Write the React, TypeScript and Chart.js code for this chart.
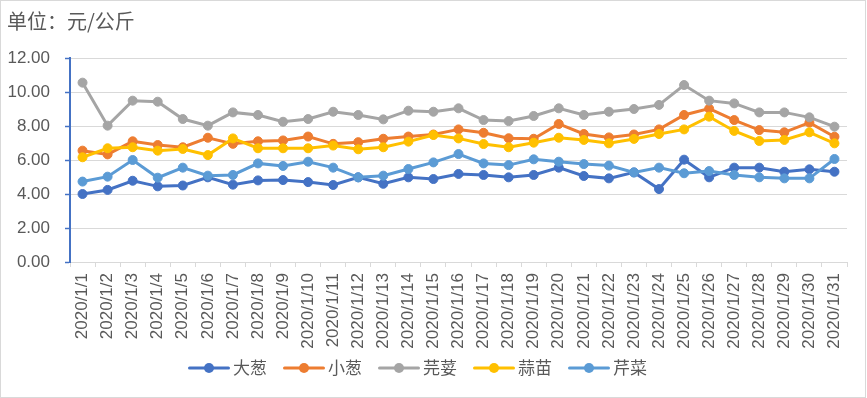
import React, { useEffect, useRef } from "react";
import { Chart, registerables } from "chart.js";

Chart.register(...registerables);

const categories = [
  "2020/1/1", "2020/1/2", "2020/1/3", "2020/1/4", "2020/1/5", "2020/1/6", "2020/1/7", "2020/1/8",
  "2020/1/9", "2020/1/10", "2020/1/11", "2020/1/12", "2020/1/13", "2020/1/14", "2020/1/15", "2020/1/16",
  "2020/1/17", "2020/1/18", "2020/1/19", "2020/1/20", "2020/1/21", "2020/1/22", "2020/1/23", "2020/1/24",
  "2020/1/25", "2020/1/26", "2020/1/27", "2020/1/28", "2020/1/29", "2020/1/30", "2020/1/31",
];

const daCong = [4.00, 4.24, 4.78, 4.45, 4.50, 4.98, 4.55, 4.80, 4.82, 4.70, 4.53, 4.98, 4.60, 4.98, 4.88, 5.18, 5.12, 4.98, 5.12, 5.55, 5.06, 4.92, 5.27, 4.29, 6.02, 4.98, 5.55, 5.55, 5.31, 5.45, 5.31];
const xiaoCong = [6.55, 6.33, 7.10, 6.88, 6.75, 7.31, 6.95, 7.10, 7.15, 7.38, 6.95, 7.05, 7.25, 7.38, 7.50, 7.80, 7.60, 7.28, 7.25, 8.12, 7.53, 7.33, 7.50, 7.80, 8.65, 9.02, 8.35, 7.76, 7.63, 8.20, 7.37];
const yuanSui = [10.55, 8.02, 9.49, 9.43, 8.41, 8.02, 8.80, 8.65, 8.25, 8.41, 8.84, 8.65, 8.39, 8.90, 8.84, 9.04, 8.35, 8.29, 8.59, 9.04, 8.65, 8.84, 9.00, 9.24, 10.41, 9.49, 9.33, 8.80, 8.80, 8.51, 7.96];
const suanMiao = [6.16, 6.69, 6.75, 6.55, 6.65, 6.29, 7.27, 6.69, 6.69, 6.69, 6.85, 6.63, 6.75, 7.08, 7.47, 7.27, 6.94, 6.75, 7.02, 7.31, 7.18, 6.98, 7.24, 7.53, 7.80, 8.55, 7.71, 7.12, 7.18, 7.63, 6.98];
const qinCai = [4.73, 5.02, 6.00, 4.96, 5.55, 5.08, 5.12, 5.80, 5.65, 5.90, 5.55, 4.98, 5.08, 5.47, 5.86, 6.35, 5.80, 5.70, 6.04, 5.90, 5.76, 5.67, 5.27, 5.55, 5.22, 5.35, 5.12, 4.98, 4.92, 4.92, 6.06];

const seriesNames = ["大葱", "小葱", "芫荽", "蒜苗", "芹菜"];
const seriesValues = [daCong, xiaoCong, yuanSui, suanMiao, qinCai];
const seriesColors = ["#4472C4", "#ED7D31", "#A5A5A5", "#FFC000", "#5B9BD5"];

const yTicks = [0, 2, 4, 6, 8, 10, 12];
const titleText = "单位：元/公斤";

const TEXT_COLOR = "#595959";
const CJK_FONT = '"Noto Sans CJK SC", "Noto Sans", sans-serif';
const NUM_FONT = '"Liberation Sans", Arial, sans-serif';

const legendPlugin = {
  id: "excelLegend",
  afterDraw(chart: any) {
    const ctx = chart.ctx as CanvasRenderingContext2D;
    const ds = chart.data.datasets;
    const lineLen = 42;
    const gap = 3;
    const spacing = 16;
    const cy = 368;
    ctx.save();
    ctx.font = `17px ${CJK_FONT}`;
    const widths = ds.map((d: any) => lineLen + gap + ctx.measureText(d.label).width);
    const total = widths.reduce((a: number, b: number) => a + b, 0) + spacing * (ds.length - 1);
    let x = 417.5 - total / 2;
    ds.forEach((d: any, i: number) => {
      ctx.strokeStyle = d.borderColor;
      ctx.lineWidth = 3;
      ctx.lineCap = "round";
      ctx.beginPath();
      ctx.moveTo(x + 1.5, cy);
      ctx.lineTo(x + lineLen - 1.5, cy);
      ctx.stroke();
      ctx.fillStyle = d.borderColor;
      ctx.beginPath();
      ctx.arc(x + lineLen / 2, cy, 5, 0, Math.PI * 2);
      ctx.fill();
      ctx.fillStyle = TEXT_COLOR;
      ctx.textBaseline = "middle";
      ctx.textAlign = "left";
      ctx.fillText(d.label, x + lineLen + gap, cy);
      x += widths[i] + spacing;
    });
    ctx.restore();
  },
};

export default function App() {
  const ref = useRef<HTMLCanvasElement | null>(null);

  useEffect(() => {
    if (!ref.current) return;
    const chart = new Chart(ref.current, {
      type: "line",
      data: {
        labels: categories,
        datasets: seriesNames.map((name, i) => ({
          label: name,
          data: seriesValues[i],
          borderColor: seriesColors[i],
          backgroundColor: seriesColors[i],
          pointBackgroundColor: seriesColors[i],
          pointBorderColor: seriesColors[i],
          borderWidth: 3,
          pointRadius: 4.5,
          pointBorderWidth: 1,
          tension: 0,
          fill: false,
          order: seriesNames.length - 1 - i,
        })),
      },
      options: {
        responsive: false,
        animation: false,
        layout: { padding: { left: 7, right: 20, top: 0, bottom: 41 } },
        plugins: {
          legend: { display: false },
          tooltip: { enabled: false },
          title: {
            display: true,
            text: titleText,
            align: "start",
            color: TEXT_COLOR,
            font: { family: CJK_FONT, size: 20, weight: "normal" },
            padding: { top: 9, bottom: 25 },
          },
        },
        scales: {
          x: {
            offset: true,
            grid: { offset: true, drawOnChartArea: false, color: "#d9d9d9", tickLength: 5 },
            border: { color: "#d9d9d9", width: 1 },
            ticks: {
              autoSkip: false,
              minRotation: 90,
              maxRotation: 90,
              padding: 6,
              color: TEXT_COLOR,
              font: { family: NUM_FONT, size: 17 },
            },
            afterFit: (s: any) => {
              s.height = 95;
            },
          },
          y: {
            min: yTicks[0],
            max: yTicks[yTicks.length - 1],
            afterBuildTicks: (s: any) => {
              s.ticks = yTicks.map((v) => ({ value: v }));
            },
            grid: { color: "#d9d9d9", lineWidth: 1, tickLength: 5, tickColor: "#4472C4", tickWidth: 1.5 },
            border: { color: "#4472C4", width: 2 },
            ticks: {
              padding: 15,
              color: TEXT_COLOR,
              font: { family: NUM_FONT, size: 17 },
              callback: (v: any) => Number(v).toFixed(2),
            },
            afterFit: (s: any) => {
              s.width = 63;
            },
          },
        },
      },
      plugins: [legendPlugin],
    });
    return () => chart.destroy();
  }, []);

  return (
    <div style={{ position: "absolute", left: 0, top: 0, width: 867, height: 398, background: "#fff" }}>
      <canvas ref={ref} width={867} height={398} style={{ width: 867, height: 398, display: "block" }} />
      <div
        style={{
          position: "absolute",
          left: 0,
          top: 0,
          width: 866,
          height: 398,
          boxSizing: "border-box",
          border: "1px solid #d9d9d9",
          pointerEvents: "none",
        }}
      />
    </div>
  );
}
